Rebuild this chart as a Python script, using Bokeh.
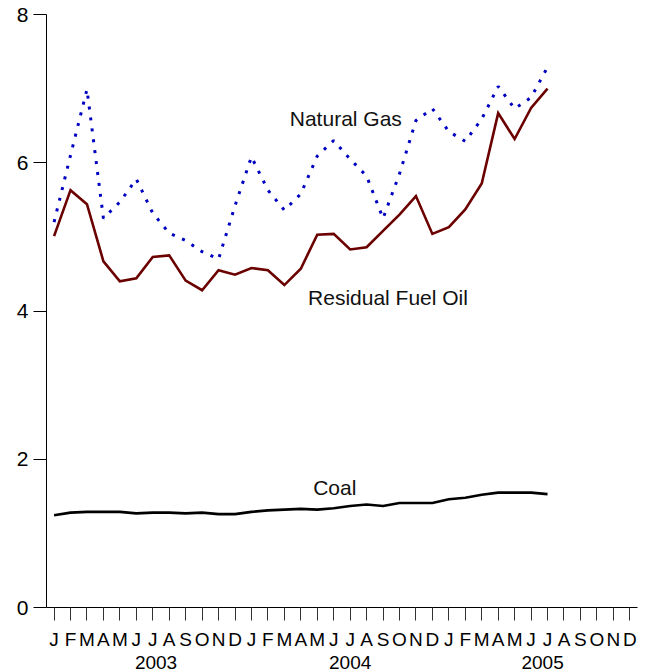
from bokeh.plotting import figure
from bokeh.models import FixedTicker, Label, Range1d, LinearAxis
from bokeh.embed import file_html
from bokeh.resources import INLINE

# ---- data (monthly, Jan 2003 .. Jul 2005) ----
month_letters = ["J", "F", "M", "A", "M", "J", "J", "A", "S", "O", "N", "D"] * 3
years = ["2003", "2004", "2005"]

natural_gas = [5.20, 6.10, 6.99, 5.25, 5.47, 5.78, 5.32, 5.05, 4.95, 4.80, 4.70, 5.42,
               6.08, 5.63, 5.36, 5.58, 6.09, 6.30, 6.05, 5.82, 5.25, 5.85, 6.57, 6.73,
               6.42, 6.29, 6.59, 7.03, 6.73, 6.88, 7.29]
residual_fuel_oil = [5.01, 5.63, 5.44, 4.67, 4.40, 4.44, 4.73, 4.75, 4.41, 4.28, 4.55, 4.49,
                     4.58, 4.55, 4.35, 4.57, 5.03, 5.04, 4.83, 4.86, 5.08, 5.30, 5.55, 5.04,
                     5.13, 5.37, 5.72, 6.67, 6.32, 6.74, 7.00]
coal = [1.245, 1.28, 1.29, 1.29, 1.29, 1.27, 1.28, 1.28, 1.27, 1.28, 1.26, 1.26,
        1.29, 1.31, 1.32, 1.33, 1.32, 1.34, 1.37, 1.39, 1.37, 1.41, 1.41, 1.41,
        1.46, 1.48, 1.52, 1.55, 1.55, 1.55, 1.53]
y_ticks = [0, 2, 4, 6, 8]

# ---- layout helpers (positions, kept separate from data) ----
month_idx = list(range(len(natural_gas)))
tick_idx = list(range(len(month_letters)))
year_x = [6.2, 18.0, 29.7]
series_labels = ["Natural Gas", "Residual Fuel Oil", "Coal"]
series_label_x = [14.33, 15.44, 15.75]
series_label_y = [6.595, 4.185, 1.615]

FONT = "Liberation Sans"

p = figure(width=640, height=671, output_backend="svg", toolbar_location=None,
           x_range=Range1d(-0.46, 35.47), y_range=Range1d(0, 8),
           min_border_left=46, min_border_right=3, min_border_top=14, min_border_bottom=60)
p.outline_line_color = None
p.xgrid.visible = False
p.ygrid.visible = False
p.background_fill_color = "white"
p.border_fill_color = "white"

# x axis (months)
xa = p.xaxis[0]
xa.ticker = FixedTicker(ticks=tick_idx)
xa.major_label_overrides = {i: m for i, m in zip(tick_idx, month_letters)}
xa.major_tick_in = 0
xa.major_tick_out = 13
xa.minor_tick_line_color = None
xa.axis_line_color = "black"
xa.major_tick_line_color = "#333333"
xa.major_label_text_font = FONT
xa.major_label_text_font_size = "19px"
xa.major_label_text_color = "black"
xa.major_label_standoff = 8

# x axis (years)
ya2 = LinearAxis(ticker=FixedTicker(ticks=year_x),
                 major_label_overrides={x: y for x, y in zip(year_x, years)},
                 axis_line_color=None, major_tick_line_color=None, minor_tick_line_color=None,
                 major_label_text_font=FONT, major_label_text_font_size="19px",
                 major_label_text_color="black", major_label_standoff=-3)
p.add_layout(ya2, "below")

# y axis
ya = p.yaxis[0]
ya.ticker = FixedTicker(ticks=y_ticks)
ya.major_tick_in = 0
ya.major_tick_out = 13
ya.minor_tick_line_color = None
ya.axis_line_color = "black"
ya.major_tick_line_color = "black"
ya.major_label_text_font = FONT
ya.major_label_text_font_size = "21px"
ya.major_label_text_color = "black"
ya.major_label_standoff = 5

# series
p.line(month_idx, natural_gas, line_color="#0000C0", line_width=3, line_dash="3 8")
p.line(month_idx, residual_fuel_oil, line_color="#6B0000", line_width=2.6, line_join="miter")
p.line(month_idx, coal, line_color="black", line_width=2.6)

for t, lx, ly in zip(series_labels, series_label_x, series_label_y):
    p.add_layout(Label(x=lx, y=ly, text=t, text_font=FONT, text_font_size="21px",
                       text_color="#111111", text_align="left", text_baseline="alphabetic"))

open("out.html", "w").write(file_html(p, INLINE))
